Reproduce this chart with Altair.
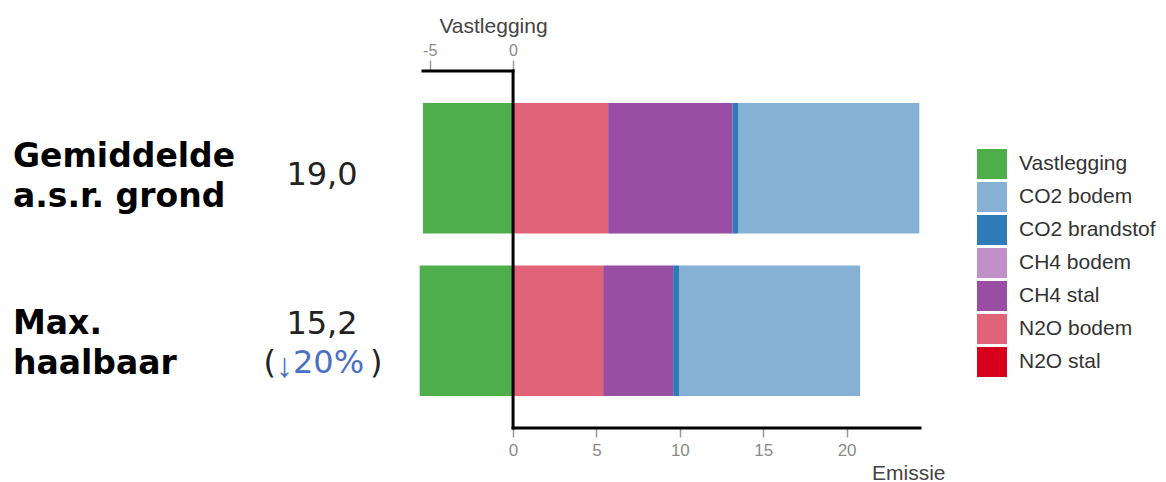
import altair as alt
import pandas as pd

# ---------------- data ----------------
rows = ["Gemiddelde a.s.r. grond", "Max. haalbaar"]
categories = ["Vastlegging", "CO2 bodem", "CO2 brandstof", "CH4 bodem",
              "CH4 stal", "N2O bodem", "N2O stal"]
colors = ["#4dae4b", "#87b0d5", "#2f7ab9", "#c290c9", "#984ea3", "#e06377", "#d6001c"]
# stacking order outward from zero
stack_order = [0, 6, 5, 3, 4, 2, 1]

vastlegging = [-5.4, -5.6]
co2_bodem = [10.85, 10.85]
co2_brandstof = [0.36, 0.36]
ch4_bodem = [0.0, 0.0]
ch4_stal = [7.45, 4.2]
n2o_bodem = [5.7, 5.4]
n2o_stal = [0.0, 0.0]

label_line1 = ["Gemiddelde", "Max."]
label_line2 = ["a.s.r. grond", "haalbaar"]
totals = ["19,0", "15,2"]
change_arrow = "↓"
change_pct = "20%"

bottom_ticks = [0, 5, 10, 15, 20]
top_ticks = [-5, 0]
x_domain = [-5.7, 24.4]
top_line = [-5.4, 0]
bottom_line = [0, 24.4]

# ---------------- build table ----------------
series = [vastlegging, co2_bodem, co2_brandstof, ch4_bodem, ch4_stal, n2o_bodem, n2o_stal]
recs = []
for ci, (cat, vals) in enumerate(zip(categories, series)):
    for ri, r in enumerate(rows):
        recs.append({"row": r, "category": cat, "value": vals[ri], "order": stack_order[ci]})
df = pd.DataFrame(recs)

W, H = 502, 357
LABEL_FONT = "Liberation Sans"

xscale = alt.Scale(domain=x_domain, nice=False, zero=False)
yscale = alt.Scale(domain=rows, paddingInner=0.1975, paddingOuter=0.1975)

bottom_axis = alt.Axis(
    orient="bottom", values=bottom_ticks, domain=False, grid=False,
    tickSize=9, tickColor="#999999", tickWidth=1.5,
    labelColor="#8a8a8a", labelFontSize=17, labelFont=LABEL_FONT, labelPadding=5,
    title="Emissie", titleFontSize=21, titleFont=LABEL_FONT, titleFontWeight="normal",
    titleColor="#444444", titleAnchor="end", titleAlign="right",
    titleX=527, titleY=51, titleBaseline="alphabetic",
)
top_axis = alt.Axis(
    orient="top", values=top_ticks, domain=False, grid=False,
    tickSize=11, tickColor="#999999", tickWidth=1.5,
    labelColor="#8a8a8a", labelFontSize=16, labelFont=LABEL_FONT, labelPadding=2,
    labelExpr="replace(datum.label, '\u2212', '-')",
    title="Vastlegging", titleFontSize=21, titleFont=LABEL_FONT, titleFontWeight="normal",
    titleColor="#444444", titleAlign="center", titleX=75, titleY=-39,
    titleBaseline="alphabetic",
)

legend = alt.Legend(
    orient="none", legendX=559, legendY=78, symbolType="square", symbolSize=900,
    symbolStrokeWidth=0, symbolOpacity=1, labelFontSize=21, labelFont=LABEL_FONT,
    labelColor="#333333", labelOffset=12, rowPadding=3, padding=0,
)

bars = alt.Chart(df).transform_filter("datum.value != 0").mark_bar().encode(
    x=alt.X("value:Q", stack="zero", scale=xscale, axis=bottom_axis),
    y=alt.Y("row:N", scale=yscale, axis=None),
    color=alt.Color("category:N", scale=alt.Scale(domain=categories, range=colors),
                    legend=legend, title=None),
    order=alt.Order("order:Q"),
)

top_rule = alt.Chart(pd.DataFrame({"a": [top_line[0]], "b": [top_line[1]]})).mark_rule(
    color="black", strokeWidth=3, strokeCap="square").encode(
    x=alt.X("a:Q", scale=xscale, axis=top_axis), x2="b:Q", y=alt.value(0))

vert_rule = alt.Chart(pd.DataFrame({"a": [0]})).mark_rule(
    color="black", strokeWidth=3, strokeCap="square").encode(
    x=alt.X("a:Q", scale=xscale, axis=None), y=alt.value(0), y2=alt.value(H))

bottom_rule = alt.Chart(pd.DataFrame({"a": [bottom_line[0]], "b": [bottom_line[1]]})).mark_rule(
    color="black", strokeWidth=3, strokeCap="square").encode(
    x=alt.X("a:Q", scale=xscale, axis=None), x2="b:Q", y=alt.value(H))


def txt(row, text, x, dy, size, weight, font, color, align="left"):
    d = pd.DataFrame({"row": [row], "t": [text]})
    return alt.Chart(d).mark_text(
        align=align, baseline="alphabetic", dy=dy, fontSize=size,
        fontWeight=weight, font=font, color=color,
    ).encode(x=alt.value(x), y=alt.Y("row:N", scale=yscale, axis=None), text="t:N")


BOLD_FONT = "DejaVu Sans"
NUM_FONT = "DejaVu Sans"
BLUE = "#4a70c6"
DARK = "#222222"
texts = [
    txt(rows[0], label_line1[0], -405, -1, 33, "bold", BOLD_FONT, "black"),
    txt(rows[0], label_line2[0], -405, 39, 33, "bold", BOLD_FONT, "black"),
    txt(rows[1], label_line1[1], -405, 3, 33, "bold", BOLD_FONT, "black"),
    txt(rows[1], label_line2[1], -405, 43, 33, "bold", BOLD_FONT, "black"),
    txt(rows[0], totals[0], -96, 17, 32, "normal", NUM_FONT, DARK, "center"),
    txt(rows[1], totals[1], -96, 3, 32, "normal", NUM_FONT, DARK, "center"),
    txt(rows[1], "(", -142, 42, 32, "normal", NUM_FONT, DARK, "right"),
    txt(rows[1], change_arrow, -142, 46, 34, "normal", "Open Sans", BLUE, "left"),
    txt(rows[1], change_pct, -125, 42, 32, "normal", NUM_FONT, BLUE, "left"),
    txt(rows[1], ")", -48, 42, 32, "normal", NUM_FONT, DARK, "left"),
]

chart = alt.layer(bars, top_rule, vert_rule, bottom_rule, *texts).resolve_axis(
    x="independent"
).properties(
    width=W, height=H,
    autosize=alt.AutoSizeParams(type="none"),
    padding={"left": 410, "top": 63, "right": 238, "bottom": 54},
).configure_view(stroke=None)

chart.save("out.html", embed_options={"renderer": "svg", "actions": False})
